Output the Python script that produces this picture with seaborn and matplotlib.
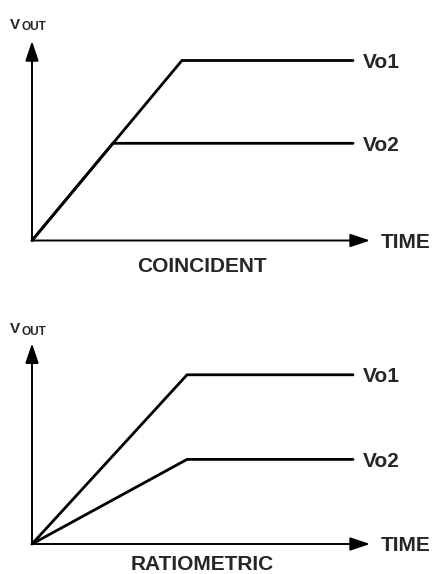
import matplotlib
matplotlib.use("Agg")
import matplotlib.pyplot as plt
import seaborn as sns
import pandas as pd

# ---- data ----
series_names = ["Vo1", "Vo2"]

# COINCIDENT panel
coinc_time_vo1 = [0.0, 4.67, 10.0]
coinc_vout_vo1 = [0.0, 1.00, 1.00]
coinc_time_vo2 = [0.0, 2.52, 10.0]
coinc_vout_vo2 = [0.0, 0.54, 0.54]

# RATIOMETRIC panel
ratio_time_vo1 = [0.0, 4.83, 10.0]
ratio_vout_vo1 = [0.0, 0.94, 0.94]
ratio_time_vo2 = [0.0, 4.83, 10.0]
ratio_vout_vo2 = [0.0, 0.47, 0.47]

panel_titles = ["COINCIDENT", "RATIOMETRIC"]
x_axis_label = "TIME"
y_axis_label_main = "V"
y_axis_label_sub = "OUT"

# ---- style ----
sns.set_theme(style="white")
plt.rcParams["font.family"] = ["Liberation Sans", "DejaVu Sans"]
plt.rcParams["font.weight"] = "bold"

W, H = 433, 574
fig = plt.figure(figsize=(W / 100, H / 100), dpi=100)
fig.patch.set_facecolor("white")


def make_df(tv1, yv1, tv2, yv2):
    return pd.DataFrame({
        "time": list(tv1) + list(tv2),
        "vout": list(yv1) + list(yv2),
        "series": [series_names[0]] * len(tv1) + [series_names[1]] * len(tv2),
    })


panels = [
    dict(df=make_df(coinc_time_vo1, coinc_vout_vo1, coinc_time_vo2, coinc_vout_vo2),
         origin_px=240.5, ytip=1.108, title=panel_titles[0], title_y=-0.175,
         vlab_off=(8.6, 8.0)),
    dict(df=make_df(ratio_time_vo1, ratio_vout_vo1, ratio_time_vo2, ratio_vout_vo2),
         origin_px=544.0, ytip=1.115, title=panel_titles[1], title_y=-0.143,
         vlab_off=(7.6, 6.2)),
]

x_left_px = 32.0
x_span_px = 321.0
y_span_px = 180.0
x_tip = 10.53

for p in panels:
    ax = fig.add_axes([x_left_px / W, (H - p["origin_px"]) / H,
                       x_span_px / W, y_span_px / H])
    ax.set_facecolor("none")
    sns.lineplot(data=p["df"], x="time", y="vout", units="series",
                 estimator=None, sort=False, color="black", linewidth=2.0,
                 ax=ax, legend=False)
    for ln in ax.get_lines():
        ln.set_clip_on(False)
        ln.set_solid_joinstyle("miter")
    ax.set_xlim(0, 10)
    ax.set_ylim(0, 1)
    for s in ax.spines.values():
        s.set_visible(False)
    ax.set_xticks([])
    ax.set_yticks([])
    ax.set_xlabel("")
    ax.set_ylabel("")

    arrow_style = "-|>,head_length=0.8,head_width=0.27"
    # x axis arrow
    ax.annotate("", xy=(x_tip, 0), xytext=(0, 0),
                arrowprops=dict(arrowstyle=arrow_style, mutation_scale=15,
                                lw=1.4, color="black", shrinkA=0, shrinkB=0),
                annotation_clip=False)
    # y axis arrow
    ax.annotate("", xy=(0, p["ytip"]), xytext=(0, 0),
                arrowprops=dict(arrowstyle=arrow_style, mutation_scale=15,
                                lw=1.4, color="black", shrinkA=0, shrinkB=0),
                annotation_clip=False)

    # series labels at line ends
    df = p["df"]
    for name in series_names:
        level = df[df["series"] == name]["vout"].iloc[-1]
        ax.annotate(name, xy=(10.30, level), xytext=(0, -5.3),
                    textcoords="offset points", ha="left", va="baseline",
                    fontsize=15, fontweight="bold", annotation_clip=False)

    # TIME label
    ax.annotate(x_axis_label, xy=(10.86, 0), xytext=(0, -5.3),
                textcoords="offset points", ha="left", va="baseline",
                fontsize=15, fontweight="bold", annotation_clip=False)

    # panel title
    ax.text(5.3, p["title_y"], p["title"], ha="center", va="baseline",
            fontsize=15, fontweight="bold", clip_on=False)

    # V_OUT label
    ax.annotate(y_axis_label_main, xy=(0, p["ytip"]), xytext=(-15.9, p["vlab_off"][0]),
                textcoords="offset points", ha="left", va="baseline",
                fontsize=11, fontweight="bold", annotation_clip=False)
    ax.annotate(y_axis_label_sub, xy=(0, p["ytip"]), xytext=(-7.6, p["vlab_off"][1]),
                textcoords="offset points", ha="left", va="baseline",
                fontsize=8.5, fontweight="bold", annotation_clip=False)

fig.savefig("out.png", dpi=100, facecolor="white")
